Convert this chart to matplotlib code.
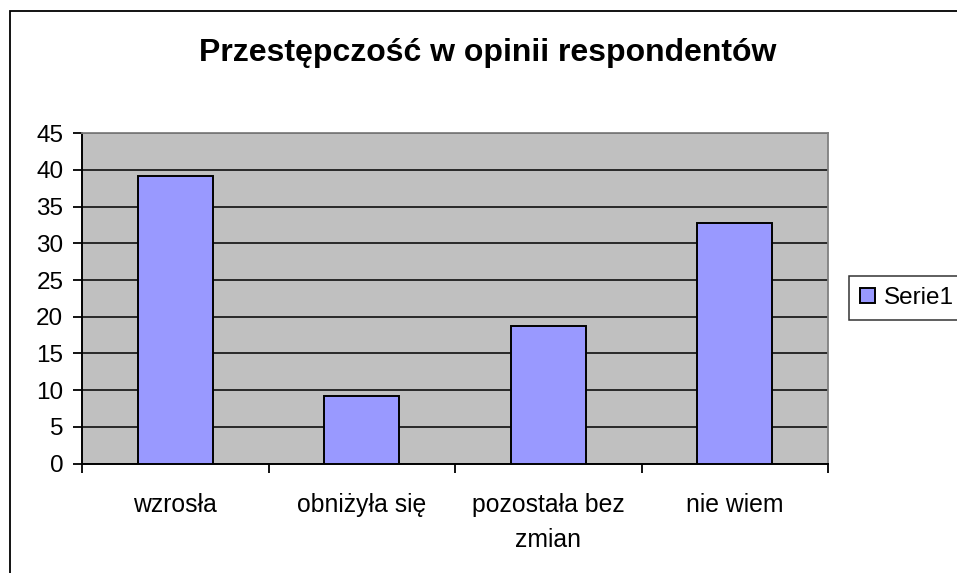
import matplotlib
matplotlib.use("Agg")
import matplotlib.pyplot as plt
from matplotlib.patches import Rectangle

categories = ["wzrosła", "obniżyła się", "pozostała bez\nzmian", "nie wiem"]
values = [39.2, 9.2, 18.7, 32.8]
series_name = "Serie1"
title = "Przestępczość w opinii respondentów"
yticks = [0, 5, 10, 15, 20, 25, 30, 35, 40, 45]

plt.rcParams['font.family'] = ['Liberation Sans', 'DejaVu Sans']

W, H = 957, 573
fig = plt.figure(figsize=(W / 100, H / 100), dpi=100)
fig.patch.set_facecolor('white')

# outer chart border (extends past right and bottom edges)
fig.patches.append(Rectangle((9.5 / W, -0.2), 1.5, 1.2 - 10.5 / H,
                             transform=fig.transFigure, fill=False,
                             edgecolor='black', linewidth=1.3, zorder=0))

ax = fig.add_axes([82 / W, 1 - 463.5 / H, (828 - 82) / W, (463.5 - 133.3) / H])
ax.set_facecolor('#C0C0C0')

x = list(range(len(categories)))
ax.bar(x, values, width=0.4, color='#9999FF', edgecolor='black',
       linewidth=1.4, zorder=3, label=series_name)

ax.set_xlim(-0.5, len(categories) - 0.5)
ax.set_ylim(0, 45)
ax.set_yticks(yticks)
ax.set_yticklabels([str(v) for v in yticks])
ax.yaxis.grid(True, color='black', linewidth=1.1, zorder=1)
ax.set_axisbelow(True)

# category boundaries ticks, labels centered
ax.set_xticks([i - 0.5 for i in range(len(categories) + 1)])
ax.set_xticklabels([''] * (len(categories) + 1))
ax.set_xticks(x, minor=True)
ax.set_xticklabels(categories, minor=True, fontsize=17.8, linespacing=1.6)
ax.tick_params(axis='x', which='minor', length=0, pad=21)
ax.tick_params(axis='x', which='major', length=6.5, width=1.3, color='black')
ax.tick_params(axis='y', length=6.5, width=1.3, pad=7, labelsize=17.5)

for s in ['left', 'bottom']:
    ax.spines[s].set_color('black')
    ax.spines[s].set_linewidth(1.4)
for s in ['top', 'right']:
    ax.spines[s].set_color('#808080')
    ax.spines[s].set_linewidth(1.3)

fig.text(488 / W, 1 - 53 / H, title, ha='center', va='center',
         fontsize=23, fontweight='bold')

leg = fig.legend(loc='center left', bbox_to_anchor=(849 / W, 1 - 298 / H),
                 bbox_transform=fig.transFigure, fontsize=17.5,
                 frameon=True, fancybox=False, edgecolor='black',
                 handlelength=0.6, handleheight=0.6, handletextpad=0.4,
                 borderpad=0.45, borderaxespad=0)
leg.get_frame().set_linewidth(1.1)

fig.savefig('out.png', dpi=100, facecolor='white')
